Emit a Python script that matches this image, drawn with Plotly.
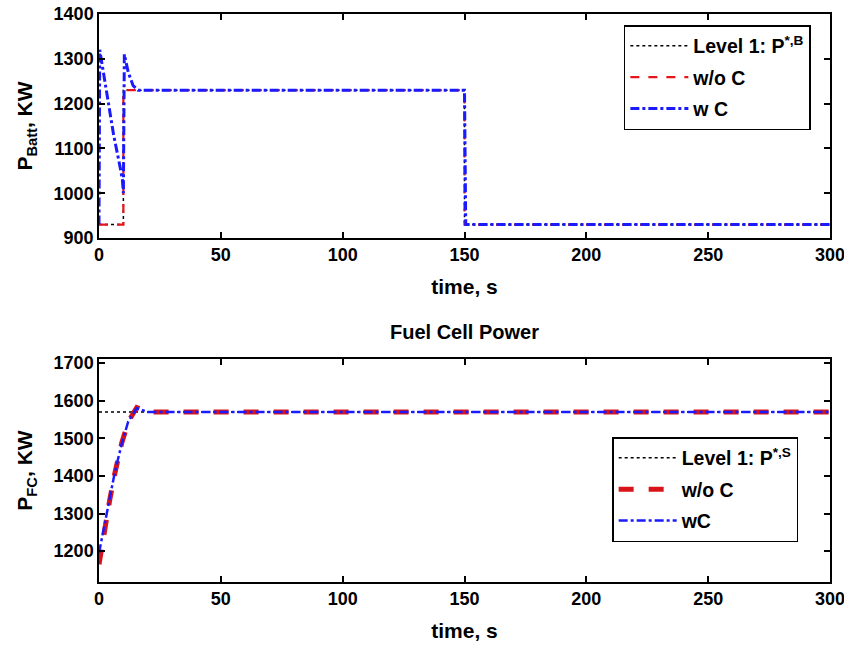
import plotly.graph_objects as go

# ---- data: battery power (top) ----
t_level_b = [0, 10, 10, 150, 150, 300]
p_level_b = [930, 930, 1230, 1230, 930, 930]
t_woc_b = [0, 10, 10, 150, 150, 300]
p_woc_b = [930, 930, 1230, 1230, 930, 930]
t_wc_b = [0, 0.3, 3, 6, 8.6, 9.6, 10.0, 10.4, 12, 14, 16, 150, 150.5, 300]
p_wc_b = [930, 1320, 1230, 1130, 1060, 1030, 1000, 1310, 1270, 1240, 1230, 1230, 930, 930]

# ---- data: fuel cell power (bottom) ----
t_level_fc = [0, 300]
p_level_fc = [1570, 1570]
t_woc_fc = [0, 1.7, 4.4, 6.5, 9.3, 12, 15.5, 20, 300]
p_woc_fc = [1165, 1238, 1336, 1407, 1487, 1544, 1582, 1570, 1570]
t_wc_fc = [0, 1.7, 4.4, 6.5, 9.3, 12, 15.5, 20, 300]
p_wc_fc = [1195, 1250, 1340, 1410, 1485, 1545, 1580, 1570, 1570]

x_ticks = [0, 50, 100, 150, 200, 250, 300]
y_ticks_b = [900, 1000, 1100, 1200, 1300, 1400]
y_ticks_fc = [1200, 1300, 1400, 1500, 1600, 1700]

FONT = "Liberation Sans, Arial, Helvetica, sans-serif"

fig = go.Figure()

fig.add_trace(go.Scatter(x=t_level_b, y=p_level_b, mode="lines", name="Level 1: P<sup>*,B</sup>",
                         line=dict(color="black", width=1.5, dash="dot"),
                         xaxis="x", yaxis="y", legend="legend", legendgroup="a"))
fig.add_trace(go.Scatter(x=t_woc_b, y=p_woc_b, mode="lines", name="w/o C",
                         line=dict(color="#e8141a", width=2.2, dash="dash"),
                         xaxis="x", yaxis="y", legend="legend", legendgroup="b"))
fig.add_trace(go.Scatter(x=t_wc_b, y=p_wc_b, mode="lines", name="w C",
                         line=dict(color="#1a1aff", width=3, dash="dashdot"),
                         xaxis="x", yaxis="y", legend="legend", legendgroup="c"))

fig.add_trace(go.Scatter(x=t_level_fc, y=p_level_fc, mode="lines", name="Level 1: P<sup>*,S</sup>",
                         line=dict(color="black", width=1.5, dash="dot"),
                         xaxis="x2", yaxis="y2", legend="legend2", legendgroup="d"))
fig.add_trace(go.Scatter(x=t_woc_fc, y=p_woc_fc, mode="lines", name="w/o C",
                         line=dict(color="#d8141a", width=5, dash="dash"),
                         xaxis="x2", yaxis="y2", legend="legend2", legendgroup="e"))
fig.add_trace(go.Scatter(x=t_wc_fc, y=p_wc_fc, mode="lines", name="wC",
                         line=dict(color="#1a1aff", width=2.5, dash="dashdot"),
                         xaxis="x2", yaxis="y2", legend="legend2", legendgroup="f"))

axis_common = dict(showline=True, linecolor="black", linewidth=1.5, mirror="ticks",
                   ticks="inside", ticklen=6, tickwidth=1.5, tickcolor="black",
                   showgrid=False, zeroline=False, automargin=False,
                   ticklabeloverflow="allow",
                   tickfont=dict(family=FONT, size=18, color="black", weight="bold"))
title_font = dict(family=FONT, size=21, color="black", weight="bold")
leg_font = dict(family=FONT, size=19.5, color="black", weight="bold")

fig.update_layout(
    width=844, height=651,
    margin=dict(l=99, r=14, t=14, b=69),
    paper_bgcolor="white", plot_bgcolor="white",
    xaxis=dict(domain=[0, 1], anchor="y", range=[0, 300], tickvals=x_ticks,
               title=dict(text="time, s", font=title_font, standoff=15), **axis_common),
    yaxis=dict(domain=[0.6056, 1], anchor="x", range=[900, 1400], tickvals=y_ticks_b,
               title=dict(text="P<sub>Batt</sub>, KW", font=title_font, standoff=15), **axis_common),
    xaxis2=dict(domain=[0, 1], anchor="y2", range=[0, 300], tickvals=x_ticks,
                title=dict(text="time, s", font=title_font, standoff=15), **axis_common),
    yaxis2=dict(domain=[0, 0.3926], anchor="x2", range=[1118, 1711], tickvals=y_ticks_fc,
                title=dict(text="P<sub>FC</sub>, KW", font=title_font, standoff=15), **axis_common),
    legend=dict(x=0.718, y=0.9806, xanchor="left", yanchor="top",
                bgcolor="white", bordercolor="black", borderwidth=1.5,
                font=leg_font, tracegroupgap=3, itemwidth=58),
    legend2=dict(x=0.702, y=0.255, xanchor="left", yanchor="top",
                 bgcolor="white", bordercolor="black", borderwidth=1.5,
                 font=leg_font, tracegroupgap=3, itemwidth=58),
    annotations=[dict(text="Fuel Cell Power", xref="paper", yref="paper", x=0.5, y=0.3926,
                      yshift=14, xanchor="center", yanchor="bottom", showarrow=False,
                      font=dict(family=FONT, size=20, color="black", weight="bold"))],
    showlegend=True,
)

fig.write_html("out.html", config={"displayModeBar": False},
               post_script="document.body.style.margin='0';document.body.style.overflow='hidden';")
